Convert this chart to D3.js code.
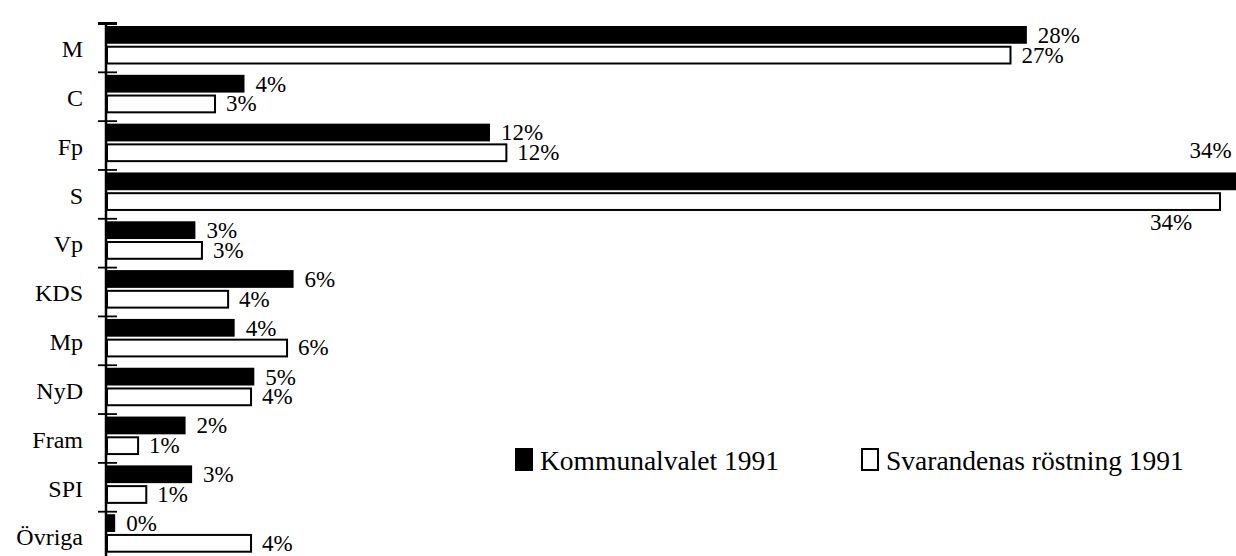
<!DOCTYPE html>
<html>
<head>
<meta charset="utf-8">
<script src="https://cdn.jsdelivr.net/npm/d3@7"></script>
<style>
  body { margin: 0; background: #fff; }
</style>
</head>
<body>
<div id="chart"></div>
<script>
"use strict";

var w = 1236,
  h = 556;

var serif = "'Liberation Serif', 'Times New Roman', serif";

// parties, top to bottom
var categories = ["M", "C", "Fp", "S", "Vp", "KDS", "Mp", "NyD", "Fram", "SPI", "Övriga"];

// bar lengths in percent
var kommunal = [28.1, 4.2, 11.7, 34.6, 2.7, 5.7, 3.9, 4.5, 2.4, 2.6, 0.25];
var svarande = [27.6, 3.3, 12.2, 34.0, 2.9, 3.7, 5.5, 4.4, 0.95, 1.2, 4.4];

// printed labels
var kommunalLabels = ["28%", "4%", "12%", "34%", "3%", "6%", "4%", "5%", "2%", "3%", "0%"];
var svarandeLabels = ["27%", "3%", "12%", "34%", "3%", "4%", "6%", "4%", "1%", "1%", "4%"];

var seriesNames = ["Kommunalvalet 1991", "Svarandenas röstning 1991"];

// label of the S bars sits above / below instead of at the end
var labelPlace = { S: ["above", "below"] };

var x0 = 107,
  topY = 23.5,
  step = 48.82;

var svg = d3
  .select("#chart")
  .append("svg")
  .attr("width", w)
  .attr("height", h)
  .attr("font-family", serif);

var x = d3.scaleLinear().domain([0, 34]).range([x0, 1220]);

var y = d3
  .scaleBand()
  .domain(categories)
  .range([topY, topY + step * categories.length])
  .padding(0);

var inner = d3
  .scaleBand()
  .domain(["k", "s"])
  .range([2.5, 40])
  .paddingInner(0.1);

var rows = categories.map(function(c, i) {
  return {
    cat: c,
    k: kommunal[i],
    s: svarande[i],
    kl: kommunalLabels[i],
    sl: svarandeLabels[i]
  };
});

//black bars
svg
  .append("g")
  .selectAll("rect")
  .data(rows)
  .join("rect")
  .attr("x", x(0))
  .attr("y", function(d) {
    return y(d.cat) + inner("k");
  })
  .attr("width", function(d) {
    return x(d.k) - x(0);
  })
  .attr("height", inner.bandwidth())
  .attr("fill", "#000");

//white bars
svg
  .append("g")
  .selectAll("rect")
  .data(rows)
  .join("rect")
  .attr("x", x(0))
  .attr("y", function(d) {
    return y(d.cat) + inner("s") + 1;
  })
  .attr("width", function(d) {
    return x(d.s) - x(0);
  })
  .attr("height", inner.bandwidth() - 1)
  .attr("fill", "#fff")
  .attr("stroke", "#000")
  .attr("stroke-width", 2);

//value labels
function place(d, idx) {
  return labelPlace[d.cat] ? labelPlace[d.cat][idx] : "end";
}

function labelAttrs(sel, key, lkey, idx) {
  sel
    .attr("x", function(d) {
      var p = place(d, idx);
      if (p === "above") return x(d[key]) - 8;
      if (p === "below") return x(d[key]) - 70;
      return x(d[key]) + 11;
    })
    .attr("y", function(d) {
      var p = place(d, idx);
      var b = y(d.cat) + inner(key);
      if (p === "above") return b - 14;
      if (p === "below") return b + inner.bandwidth() + 20;
      return b + inner.bandwidth() - 1;
    })
    .attr("text-anchor", function(d) {
      return place(d, idx) === "above" ? "end" : "start";
    })
    .attr("font-size", 23)
    .text(function(d) {
      return d[lkey];
    });
}

svg
  .append("g")
  .selectAll("text")
  .data(rows)
  .join("text")
  .call(labelAttrs, "k", "kl", 0);

svg
  .append("g")
  .selectAll("text")
  .data(rows)
  .join("text")
  .call(labelAttrs, "s", "sl", 1);

//axis with category names
var axis = svg.append("g");

axis
  .append("line")
  .attr("x1", x0 - 1)
  .attr("x2", x0 - 1)
  .attr("y1", topY - 1)
  .attr("y2", h)
  .attr("stroke", "#000")
  .attr("stroke-width", 2.5);

axis
  .selectAll(".tick")
  .data(categories)
  .join("line")
  .attr("class", "tick")
  .attr("x1", x0 - 9)
  .attr("x2", x0 + 10)
  .attr("y1", function(d) {
    return y(d);
  })
  .attr("y2", function(d) {
    return y(d);
  })
  .attr("stroke", "#000")
  .attr("stroke-width", function(d, i) {
    return i === 0 ? 3 : 1.8;
  });

axis
  .selectAll(".cat")
  .data(categories)
  .join("text")
  .attr("class", "cat")
  .attr("x", 83)
  .attr("y", function(d) {
    return y(d) + y.bandwidth() * 0.69;
  })
  .attr("text-anchor", "end")
  .attr("font-size", 24)
  .text(function(d) {
    return d;
  });

//legend
var legendX = [516, 862];
var legend = svg
  .append("g")
  .selectAll("g")
  .data(seriesNames)
  .join("g")
  .attr("transform", function(d, i) {
    return "translate(" + legendX[i] + ",449)";
  });

legend
  .append("rect")
  .attr("width", 16)
  .attr("height", 21)
  .attr("fill", function(d, i) {
    return i === 0 ? "#000" : "#fff";
  })
  .attr("stroke", "#000")
  .attr("stroke-width", 2);

legend
  .append("text")
  .attr("x", 24)
  .attr("y", 21)
  .attr("font-size", 27.5)
  .text(function(d) {
    return d;
  });
</script>
</body>
</html>
